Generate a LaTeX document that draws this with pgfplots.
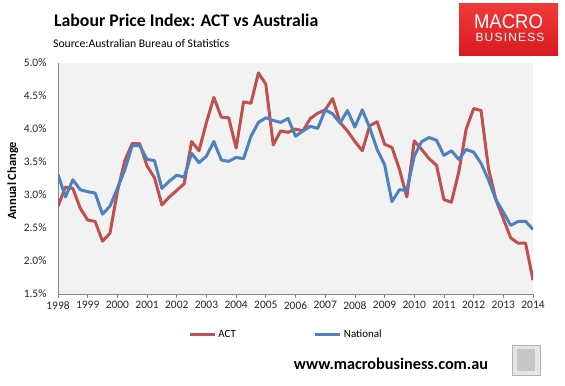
\documentclass[border=0pt]{standalone}
\usepackage{fontspec}
\setmainfont{Carlito}
\newfontfamily\arialf{Liberation Sans}
\usepackage{pgfplots}
\usepackage{pgfplotstable}
\pgfplotsset{compat=1.18}
\definecolor{actred}{RGB}{192,80,77}
\definecolor{natblue}{RGB}{79,129,189}
\definecolor{axgray}{RGB}{134,134,134}
\definecolor{plotbg}{RGB}{242,242,242}
\definecolor{mbred}{RGB}{218,26,32}
\definecolor{mbredlight}{RGB}{240,58,58}

\pgfplotstableread{
year act nat
1998.00 2.83 3.31
1998.25 3.12 2.97
1998.50 3.10 3.23
1998.75 2.80 3.08
1999.00 2.62 3.05
1999.25 2.60 3.03
1999.50 2.30 2.71
1999.75 2.42 2.83
2000.00 3.05 3.10
2000.25 3.52 3.38
2000.50 3.78 3.75
2000.75 3.78 3.75
2001.00 3.44 3.54
2001.25 3.26 3.52
2001.50 2.85 3.10
2001.75 2.97 3.21
2002.00 3.07 3.30
2002.25 3.17 3.27
2002.50 3.81 3.63
2002.75 3.67 3.49
2003.00 4.10 3.59
2003.25 4.48 3.81
2003.50 4.18 3.53
2003.75 4.17 3.51
2004.00 3.71 3.57
2004.25 4.41 3.55
2004.50 4.39 3.89
2004.75 4.85 4.10
2005.00 4.68 4.17
2005.25 3.76 4.13
2005.50 3.97 4.10
2005.75 3.95 4.16
2006.00 4.00 3.89
2006.25 3.97 3.97
2006.50 4.16 4.04
2006.75 4.24 4.01
2007.00 4.29 4.29
2007.25 4.46 4.23
2007.50 4.10 4.09
2007.75 3.97 4.28
2008.00 3.81 4.03
2008.25 3.67 4.29
2008.50 4.05 4.02
2008.75 4.11 3.69
2009.00 3.77 3.46
2009.25 3.72 2.90
2009.50 3.39 3.08
2009.75 2.97 3.07
2010.00 3.82 3.59
2010.25 3.69 3.81
2010.50 3.55 3.87
2010.75 3.45 3.83
2011.00 2.93 3.60
2011.25 2.89 3.67
2011.50 3.35 3.54
2011.75 4.00 3.69
2012.00 4.31 3.65
2012.25 4.28 3.48
2012.50 3.40 3.23
2012.75 2.93 2.93
2013.00 2.64 2.74
2013.25 2.35 2.54
2013.50 2.27 2.60
2013.75 2.27 2.60
2014.00 1.71 2.48
}\lpidata

\begin{document}
\begin{tikzpicture}[x=1bp,y=1bp]
\path[use as bounding box] (0,0) rectangle (565,385);
\begin{axis}[
  at={(58bp,91bp)}, anchor=south west,
  scale only axis, width=475bp, height=231bp,
  xmin=1998, xmax=2014, ymin=1.5, ymax=5.0,
  axis x line*=bottom, axis y line*=left,
  axis line style={axgray, line width=0.75bp, -},
  axis background/.style={fill=plotbg},
  xtick={1998,1999,2000,2001,2002,2003,2004,2005,2006,2007,2008,2009,2010,2011,2012,2013,2014},
  ytick={1.5,2,2.5,3,3.5,4,4.5,5},
  tick align=outside, major tick length=4bp,
  x tick style={axgray, line width=0.75bp},
  y tick style={draw=none},
  /pgf/number format/assume math mode=true,
  ticklabel style={font=\fontsize{11.5}{13}\selectfont, text=black!85},
  xticklabel style={/pgf/number format/1000 sep={}},
  yticklabel={\pgfmathprintnumber[fixed,fixed zerofill,precision=1]{\tick}\%},
  yticklabel style={xshift=-4bp},
  ylabel={\bfseries Annual Change},
  ylabel style={at={(axis description cs:-0.095,0.49)}, anchor=center, font=\fontsize{12.5}{14}\selectfont},
  legend columns=2,
  legend style={draw=none, fill=none, at={(axis description cs:0.48,-0.177)}, anchor=center,
     font=\fontsize{11}{13}\selectfont,
     /tikz/every even column/.append style={column sep=76bp},
     inner sep=0pt},
  legend image code/.code={\draw[#1, line width=3bp] (0bp,0bp) -- (25bp,0bp);},
  legend cell align=left,
]
\addplot[actred, line width=3bp, line join=round, mark=none] table[x=year,y=act]{\lpidata};
\addlegendentry{ACT}
\addplot[natblue, line width=3bp, line join=round, mark=none] table[x=year,y=nat]{\lpidata};
\addlegendentry{National}
\end{axis}
% titles
\node[anchor=west, inner sep=0pt, font=\fontsize{17.8}{20}\selectfont\bfseries] at (54,365) {Labour Price Index: ACT vs Australia};
\node[anchor=west, inner sep=0pt, font=\fontsize{11.7}{14}\selectfont] at (53,341.5) {Source:Australian Bureau of Statistics};
% logo
\shade[top color=mbredlight, bottom color=mbred] (459,330) rectangle (558,381);
\node[white, font=\arialf\fontsize{20}{22}\selectfont, xscale=0.93] at (508.5,363) {MACRO};
\node[white, font=\arialf\fontsize{12}{14}\selectfont] at (510,347.5) {B\hspace{1.2bp}U\hspace{1.2bp}S\hspace{1.2bp}I\hspace{1.2bp}N\hspace{1.2bp}E\hspace{1.2bp}S\hspace{1.2bp}S};
% footer
\node[font=\fontsize{16.3}{19}\selectfont\bfseries] at (391,21) {www.macrobusiness.com.au};
\draw[gray!60, fill=gray!20, line width=0.75bp] (512,10) rectangle (540,40);
\fill[gray!45] (517,14) rectangle (535,36);
\end{tikzpicture}
\end{document}
